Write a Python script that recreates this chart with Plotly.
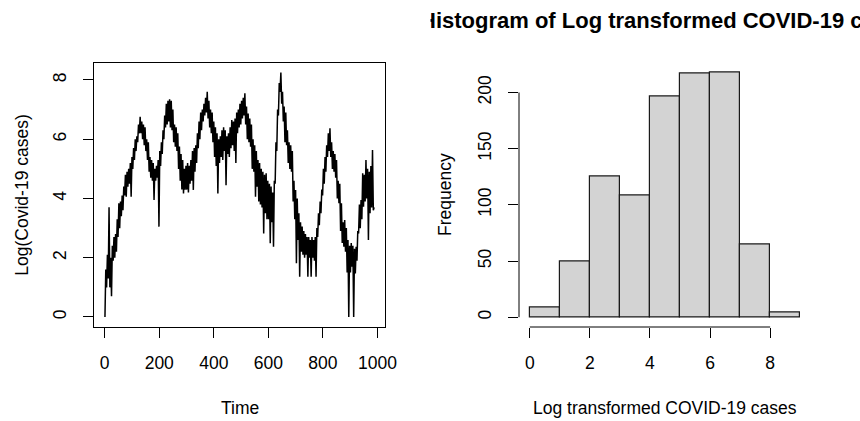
import plotly.graph_objects as go

# ---------------- data ----------------
# Time series: log daily COVID-19 cases, every 3rd day (alternating lower/upper edge of the dense band)
time_index = list(range(1, 989, 3))
log_cases = [
    0.0, 1.6, 1.0, 2.1, 1.3, 3.7, 1.0, 2.0, 0.7, 2.4,
    1.9, 2.7, 2.0, 2.8, 2.2, 3.3, 2.7, 3.84, 3.0, 3.9,
    3.4, 4.1, 3.6, 4.4, 4.1, 4.8, 4.06, 4.9, 4.4, 5.0,
    4.5, 5.2, 4.06, 5.4, 5.0, 5.7, 5.3, 6.0, 5.6, 6.1,
    5.9, 6.5, 6.2, 6.76, 6.2, 6.6, 6.0, 6.5, 5.8, 6.4,
    5.6, 6.0, 5.3, 5.9, 4.9, 5.4, 4.7, 5.3, 4.6, 5.2,
    3.95, 5.0, 4.6, 5.1, 4.7, 5.3, 3.05, 5.6, 5.1, 5.9,
    5.5, 6.3, 6.0, 6.8, 6.4, 7.2, 6.5, 7.3, 6.6, 7.35,
    6.4, 7.3, 6.3, 7.0, 5.9, 6.5, 5.75, 6.4, 5.6, 6.2,
    5.0, 5.75, 4.6, 5.5, 4.3, 5.3, 4.17, 5.0, 4.3, 5.1,
    4.3, 5.2, 4.2, 5.1, 4.5, 5.3, 4.6, 5.6, 4.29, 5.7,
    4.9, 5.8, 5.2, 6.2, 5.7, 6.6, 6.0, 6.9, 6.3, 7.0,
    6.6, 7.2, 6.8, 7.4, 6.9, 7.6, 6.7, 7.3, 6.4, 7.0,
    6.2, 6.9, 5.9, 6.6, 5.4, 6.4, 5.1, 6.2, 4.17, 6.0,
    5.2, 6.1, 5.4, 6.3, 5.3, 6.4, 5.6, 6.3, 4.45, 6.1,
    5.5, 6.2, 5.4, 6.4, 5.7, 6.65, 5.8, 6.6, 5.6, 6.7,
    5.2, 6.9, 6.2, 7.0, 6.4, 7.2, 6.5, 7.3, 6.7, 7.4,
    6.8, 7.55, 6.5, 7.1, 6.0, 6.87, 5.9, 6.7, 5.75, 6.5,
    5.0, 6.0, 4.9, 5.8, 4.06, 5.6, 4.4, 5.3, 3.9, 5.2,
    3.8, 5.0, 3.7, 4.9, 2.82, 4.8, 3.5, 4.85, 3.3, 4.6,
    3.3, 4.5, 2.49, 4.4, 3.2, 4.2, 2.37, 4.6, 4.5, 5.9,
    5.6, 7.0, 6.8, 7.9, 7.6, 8.25, 7.2, 7.6, 6.6, 7.1,
    5.9, 6.9, 5.8, 6.3, 5.2, 5.9, 5.0, 5.8, 4.9, 5.6,
    3.9, 4.6, 3.3, 4.29, 1.81, 4.0, 2.6, 3.5, 1.36, 3.2,
    2.2, 3.05, 2.1, 2.9, 2.0, 2.8, 2.1, 2.7, 1.36, 2.7,
    2.0, 2.6, 1.36, 2.7, 2.0, 2.6, 1.9, 2.7, 1.36, 3.0,
    2.7, 3.5, 3.1, 3.9, 3.5, 4.3, 4.1, 5.0, 4.5, 5.4,
    4.9, 5.8, 5.4, 6.2, 5.6, 6.37, 5.4, 5.9, 5.0, 5.6,
    4.9, 5.5, 4.7, 5.3, 4.0, 4.6, 3.84, 4.5, 2.9, 3.84,
    2.5, 3.2, 2.37, 3.27, 2.2, 3.0, 1.5, 2.6, 0.0, 2.4,
    1.5, 2.5, 1.7, 2.4, 0.0, 2.3, 1.47, 2.37, 1.9, 2.9,
    2.82, 3.8, 3.0, 3.95, 3.3, 4.85, 3.72, 4.8, 3.9, 5.3,
    4.0, 5.0, 2.6, 4.9, 3.5, 5.1, 3.7, 5.64, 3.6, 3.7,
]

# Histogram of the log-transformed cases
bin_left = [0, 1, 2, 3, 4, 5, 6, 7, 8]
bin_right = [1, 2, 3, 4, 5, 6, 7, 8, 9]
bin_counts = [9, 50, 125, 108, 196, 217, 218, 65, 4]

ts_xticks = [0, 200, 400, 600, 800, 1000]
ts_yticks = [0, 2, 4, 6, 8]
hist_xticks = [0, 2, 4, 6, 8]
hist_yticks = [0, 50, 100, 150, 200]

title_text = "Histogram of Log transformed COVID-19 cases"
ts_xlabel = "Time"
ts_ylabel = "Log(Covid-19 cases)"
hist_xlabel = "Log transformed COVID-19 cases"
hist_ylabel = "Frequency"

# ---------------- layout geometry ----------------
W, H = 860, 421
FONT = "Liberation Sans, Arial, sans-serif"
FS = 17.5

def px_x(p):
    return p / W

def px_y(p):
    return 1 - p / H

ydom = [px_y(327), px_y(62.5)]
left_dom = [px_x(94), px_x(385)]
right_dom = [px_x(519), px_x(811)]

centers = [(a + b) / 2 for a, b in zip(bin_left, bin_right)]
widths = [b - a for a, b in zip(bin_left, bin_right)]

fig = go.Figure()
fig.add_trace(go.Scatter(
    x=time_index, y=log_cases, mode="lines",
    line=dict(color="black", width=1.5),
    xaxis="x", yaxis="y", showlegend=False, hoverinfo="skip",
))
fig.add_trace(go.Bar(
    x=centers, y=bin_counts, width=widths,
    marker=dict(color="#d3d3d3", line=dict(color="#1a1a1a", width=1.2)),
    xaxis="x2", yaxis="y2", showlegend=False,
))

tick_common = dict(
    ticks="outside", ticklen=10, tickcolor="black", tickwidth=1,
    showgrid=False, zeroline=False, automargin=False,
    tickfont=dict(family=FONT, size=FS, color="black"),
)

fig.update_layout(
    width=W, height=H,
    margin=dict(l=0, r=0, t=0, b=0),
    paper_bgcolor="white", plot_bgcolor="white",
    font=dict(family=FONT, size=FS, color="black"),
    bargap=0,
    xaxis=dict(domain=left_dom, range=[-39.2, 1027.8], tickvals=ts_xticks,
               showline=True, mirror=True, linecolor="black", linewidth=1,
               ticklabelstandoff=10, anchor="y", **tick_common),
    yaxis=dict(domain=ydom, range=[-0.338, 8.59], tickvals=ts_yticks,
               showline=True, mirror=True, linecolor="black", linewidth=1,
               tickangle=-90, ticklabelstandoff=10, anchor="x", **tick_common),
    xaxis2=dict(domain=right_dom, range=[-0.36, 9.36], tickvals=hist_xticks,
                showline=False, ticklabelstandoff=10, anchor="y2", **tick_common),
    yaxis2=dict(domain=ydom, range=[-8.72, 226.7], tickvals=hist_yticks,
                showline=False, tickangle=-90, ticklabelstandoff=10, anchor="x2",
                **tick_common),
)

# R-style axis lines of the histogram (only between first and last tick)
fig.add_shape(type="line", xref="x2", yref="paper",
              x0=hist_xticks[0], x1=hist_xticks[-1], y0=ydom[0], y1=ydom[0],
              line=dict(color="black", width=1))
fig.add_shape(type="line", xref="paper", yref="y2",
              x0=right_dom[0], x1=right_dom[0], y0=hist_yticks[0], y1=hist_yticks[-1],
              line=dict(color="black", width=1))

ann = []
ann.append(dict(text="<b>" + title_text + "</b>", x=px_x(665), y=px_y(20),
                xref="paper", yref="paper", showarrow=False,
                xanchor="center", yanchor="middle",
                font=dict(family=FONT, size=22, color="black")))
# the title is clipped at the left edge of its figure region in the original
ann.append(dict(text=" ", x=px_x(431), y=px_y(20), xref="paper", yref="paper",
                showarrow=False, xanchor="right", yanchor="middle",
                width=40, height=34, bgcolor="white", borderpad=0))
ann.append(dict(text=ts_xlabel, x=px_x(239.5), y=px_y(408), xref="paper", yref="paper",
                showarrow=False, xanchor="center", yanchor="middle"))
ann.append(dict(text=hist_xlabel, x=px_x(665), y=px_y(408), xref="paper", yref="paper",
                showarrow=False, xanchor="center", yanchor="middle"))
ann.append(dict(text=ts_ylabel, x=px_x(21.7), y=px_y(195), xref="paper", yref="paper",
                showarrow=False, xanchor="center", yanchor="middle", textangle=-90))
ann.append(dict(text=hist_ylabel, x=px_x(445), y=px_y(195), xref="paper", yref="paper",
                showarrow=False, xanchor="center", yanchor="middle", textangle=-90))
fig.update_layout(annotations=ann)

fig.write_html("out.html")
